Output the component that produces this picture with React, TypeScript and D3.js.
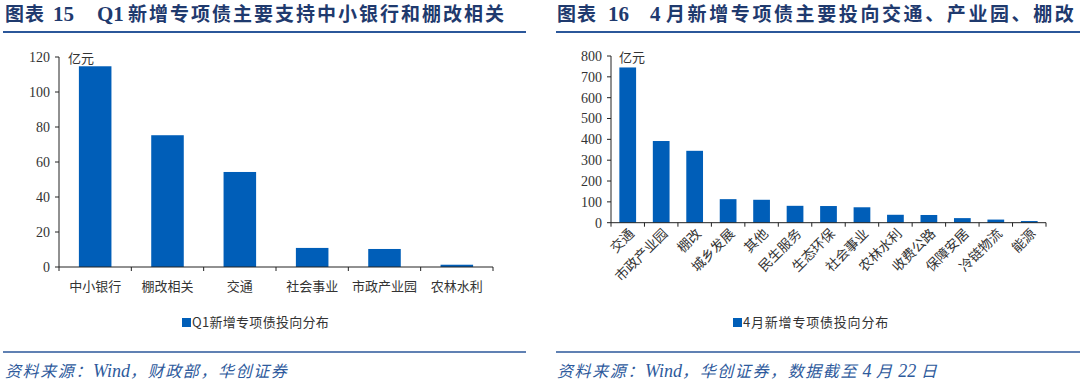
import React from "react";
import * as d3 from "d3";

const leftCategories = ["中小银行", "棚改相关", "交通", "社会事业", "市政产业园", "农林水利"];
const leftValues = [114.7, 75.3, 54.3, 10.9, 10.3, 1.3];
const leftTicks = [0, 20, 40, 60, 80, 100, 120];

const rightCategories = ["交通", "市政产业园", "棚改", "城乡发展", "其他", "民生服务", "生态环保", "社会事业", "农林水利", "收费公路", "保障安居", "冷链物流", "能源"];
const rightValues = [745, 392, 345, 113, 110, 81, 80, 74, 38, 37, 22, 15, 8];
const rightTicks = [0, 100, 200, 300, 400, 500, 600, 700, 800];

const BAR = "#005EB8";
const TITLE = "#1F3A6E";
const LINE = "#2B579A";
const FOOT = "#2E5A9C";
const NUM_FONT = "'Liberation Serif', 'Noto Sans CJK SC', serif";
const CJK_FONT = "'Noto Sans CJK SC', 'Liberation Serif', serif";

function LeftChart() {
  const x = d3.scaleBand<string>().domain(leftCategories).range([59, 493]).paddingInner(0.55).paddingOuter(0.275);
  const y = d3.scaleLinear().domain([0, 120]).range([267, 57]);
  const boundaries = d3.range(leftCategories.length + 1).map((i) => 59 + i * (434 / leftCategories.length));
  return (
    <g>
      {leftCategories.map((c, i) => (
        <rect key={c} x={x(c)} y={y(leftValues[i])} width={x.bandwidth()} height={y(0) - y(leftValues[i])} fill={BAR} />
      ))}
      <line x1={59} x2={59} y1={57} y2={267} stroke="#222" strokeWidth={1} />
      {leftTicks.map((t) => (
        <g key={t}>
          <line x1={55} x2={59} y1={y(t)} y2={y(t)} stroke="#222" />
          <text x={50} y={y(t)} dy="0.35em" textAnchor="end" fontFamily={NUM_FONT} fontSize={14} fill="#333">{t}</text>
        </g>
      ))}
      <line x1={59} x2={493} y1={267} y2={267} stroke="#222" strokeWidth={1} />
      {boundaries.map((b, i) => (
        <line key={i} x1={b} x2={b} y1={267} y2={271} stroke="#222" />
      ))}
      {leftCategories.map((c) => (
        <text key={c} x={(x(c) as number) + x.bandwidth() / 2} y={286} dy="0.35em" textAnchor="middle" fontFamily={CJK_FONT} fontSize={13} fill="#333">{c}</text>
      ))}
      <text x={68} y={58} dy="0.35em" fontFamily={CJK_FONT} fontSize={13} fill="#333">亿元</text>
      <rect x={182} y={318} width={9} height={9} fill={BAR} />
      <text x={192} y={322.5} dy="0.35em" fontFamily={CJK_FONT} fontSize={13} letterSpacing={0.3} fill="#333">Q1新增专项债投向分布</text>
    </g>
  );
}

function RightChart() {
  const x0 = 611, x1 = 1046;
  const x = d3.scaleBand<string>().domain(rightCategories).range([x0, x1]).paddingInner(0.5).paddingOuter(0.25);
  const y = d3.scaleLinear().domain([0, 800]).range([222.7, 56]);
  const n = rightCategories.length;
  const boundaries = d3.range(n + 1).map((i) => x0 + i * ((x1 - x0) / n));
  return (
    <g>
      {rightCategories.map((c, i) => (
        <rect key={c} x={x(c)} y={y(rightValues[i])} width={x.bandwidth()} height={y(0) - y(rightValues[i])} fill={BAR} />
      ))}
      <line x1={x0} x2={x0} y1={56} y2={222.7} stroke="#222" />
      {rightTicks.map((t) => (
        <g key={t}>
          <line x1={x0 - 4} x2={x0} y1={y(t)} y2={y(t)} stroke="#222" />
          <text x={602} y={y(t)} dy="0.35em" textAnchor="end" fontFamily={NUM_FONT} fontSize={14} fill="#333">{t}</text>
        </g>
      ))}
      <line x1={x0} x2={x1} y1={222.7} y2={222.7} stroke="#222" />
      {boundaries.map((b, i) => (
        <line key={i} x1={b} x2={b} y1={222.7} y2={226.7} stroke="#222" />
      ))}
      {rightCategories.map((c) => {
        const cx = (x(c) as number) + x.bandwidth() / 2;
        return (
          <text key={c} transform={`translate(${cx + 4},${231}) rotate(-45)`} textAnchor="end" dy="0.35em" fontFamily={CJK_FONT} fontSize={13.5} fill="#333">{c}</text>
        );
      })}
      <text x={619} y={57} dy="0.35em" fontFamily={CJK_FONT} fontSize={13} fill="#333">亿元</text>
      <rect x={733} y={318} width={9} height={9} fill={BAR} />
      <text x={743} y={322.5} dy="0.35em" fontFamily={CJK_FONT} fontSize={13} letterSpacing={0.8} fill="#333">4月新增专项债投向分布</text>
    </g>
  );
}

export default function App() {
  const titleStyle = { fontFamily: CJK_FONT, fontWeight: 700, fontSize: 19, fill: TITLE } as const;
  const numTitle = { fontFamily: NUM_FONT, fontWeight: 700, fontSize: 21, fill: TITLE } as const;
  const footStyle = { fontFamily: CJK_FONT, fontStyle: "italic", fontSize: 16, fill: FOOT, letterSpacing: 1.6 } as const;
  return (
    <svg width={1080} height={384} style={{ position: "absolute", left: 0, top: 0, background: "#fff" }}>
      <rect width={1080} height={384} fill="#fff" />
      <text x={5} y={21} {...titleStyle} letterSpacing={1}>图表</text>
      <text x={53} y={21} {...numTitle}>15</text>
      <text x={97} y={21} {...numTitle}>Q1</text>
      <text x={128} y={21} {...titleStyle} letterSpacing={2}>新增专项债主要支持中小银行和棚改相关</text>
      <line x1={3} x2={526} y1={32} y2={32} stroke={LINE} strokeWidth={2.2} />

      <text x={557} y={21} {...titleStyle} letterSpacing={1}>图表</text>
      <text x={608} y={21} {...numTitle}>16</text>
      <text x={650} y={21} {...numTitle}>4</text>
      <text x={666} y={21} {...titleStyle} letterSpacing={2.6}>月新增专项债主要投向交通、产业园、棚改</text>
      <line x1={556} x2={1080} y1={32} y2={32} stroke={LINE} strokeWidth={2.2} />

      <LeftChart />
      <RightChart />

      <line x1={3} x2={526} y1={352} y2={352} stroke={LINE} strokeWidth={1.6} />
      <line x1={556} x2={1080} y1={352} y2={352} stroke={LINE} strokeWidth={1.6} />
      <text x={5} y={371} dy="0.35em" {...footStyle}>资料来源：<tspan fontFamily={NUM_FONT} fontSize={18} letterSpacing={0}>Wind</tspan>，财政部，华创证券</text>
      <text x={557} y={371} dy="0.35em" {...footStyle}>资料来源：<tspan fontFamily={NUM_FONT} fontSize={18} letterSpacing={0}>Wind</tspan>，华创证券，数据截至<tspan fontFamily={NUM_FONT} fontSize={18} letterSpacing={0}> 4 </tspan>月<tspan fontFamily={NUM_FONT} fontSize={18} letterSpacing={0}> 22 </tspan>日</text>
    </svg>
  );
}
